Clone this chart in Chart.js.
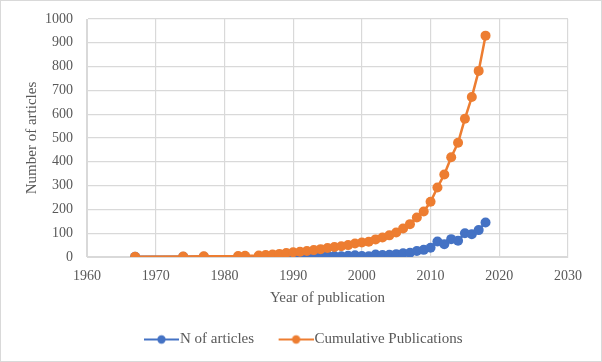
<!DOCTYPE html>
<html><head><meta charset="utf-8">
<script src="https://cdn.jsdelivr.net/npm/chart.js@4/dist/chart.umd.min.js"></script>
<style>
html,body{margin:0;padding:0;background:#fff;}
#wrap{position:absolute;left:0;top:0;width:600px;height:360px;border:1px solid #d9d9d9;}
canvas{display:block;}
</style></head>
<body><div id="wrap"><canvas id="c" width="600" height="360"></canvas></div>
<script>
const years = [1967,1974,1977,1982,1983,1985,1986,1987,1988,1989,1990,1991,1992,1993,1994,1995,1996,1997,1998,1999,2000,2001,2002,2003,2004,2005,2006,2007,2008,2009,2010,2011,2012,2013,2014,2015,2016,2017,2018];
const nArticles = [1,1,1,1,1,1,2,2,3,4,3,2,3,4,4,5,4,3,5,7,4,3,10,8,9,12,16,18,25,30,39,65,54,75,68,100,96,113,145];
const cumulative = [1,2,3,4,5,6,8,10,13,17,20,22,25,29,33,38,42,45,50,57,61,64,74,82,91,103,120,138,166,191,232,292,347,419,480,581,672,782,930];
const seriesNames = ['N of articles','Cumulative Publications'];
const colors = ['#4472C4','#ED7D31'];
const xTicks = [1960,1970,1980,1990,2000,2010,2020,2030];
const yTicks = [0,100,200,300,400,500,600,700,800,900,1000];

// legend icon: line with a dot, drawn at the right end of a wider transparent image
function legendIcon(color){
  const W=43, C=35;
  const cv=document.createElement('canvas'); cv.width=W; cv.height=12;
  const g=cv.getContext('2d');
  const x0=W-C;
  g.strokeStyle=color; g.lineWidth=2.2; g.beginPath(); g.moveTo(x0,6); g.lineTo(W,6); g.stroke();
  g.fillStyle=color; g.beginPath(); g.arc(x0+C/2,6,4.2,0,Math.PI*2); g.fill();
  return cv;
}
const icons = colors.map(legendIcon);
const fam = '"Liberation Serif", "Times New Roman", serif';
const tickFont = {family:fam, size:14};
const titleFont = {family:fam, size:15};

const legendShift = {id:'legendShift', afterLayout(chart){ const lg=chart.legend; if(lg){ lg.left+=7; lg.right+=7; } }};

new Chart(document.getElementById('c'), {
  type:'scatter',
  data:{datasets:[
    {label:seriesNames[0], data:years.map((y,i)=>({x:y,y:nArticles[i]})), borderColor:colors[0], backgroundColor:colors[0], showLine:true, borderWidth:2.5, pointRadius:5, pointBorderWidth:0, order:1},
    {label:seriesNames[1], data:years.map((y,i)=>({x:y,y:cumulative[i]})), borderColor:colors[1], backgroundColor:colors[1], showLine:true, borderWidth:2.5, pointRadius:5, pointBorderWidth:0, order:0}
  ]},
  plugins:[legendShift],
  options:{
    responsive:false, animation:false,
    layout:{padding:{left:22,right:33,top:18,bottom:4}},
    plugins:{
      tooltip:{enabled:false},
      legend:{position:'bottom', labels:{
        font:titleFont, color:'#595959', usePointStyle:true, pointStyleWidth:30, padding:23,
        generateLabels:(chart)=>seriesNames.map((n,i)=>({text:n, pointStyle:icons[i], fillStyle:colors[i], strokeStyle:colors[i], lineWidth:0, datasetIndex:i, hidden:false, fontColor:'#595959'}))
      }}
    },
    scales:{
      x:{type:'linear', min:1960, max:2030,
        afterBuildTicks:(s)=>{s.ticks=xTicks.map(v=>({value:v}));},
        afterFit:(s)=>{s.height=52;},
        ticks:{font:tickFont, color:'#595959', padding:11, maxRotation:0, callback:(v)=>String(v)},
        grid:{color:'#d9d9d9', lineWidth:1.2, drawTicks:false, tickLength:0},
        border:{color:'#d9d9d9'},
        title:{display:true, text:'Year of publication', font:titleFont, color:'#595959', padding:{top:4,bottom:2}}
      },
      y:{type:'linear', min:0, max:1000,
        afterBuildTicks:(s)=>{s.ticks=yTicks.map(v=>({value:v}));},
        afterFit:(s)=>{s.width=64; s.paddingTop=0; s.paddingBottom=0;},
        ticks:{font:tickFont, color:'#595959', padding:14, callback:(v)=>String(v)},
        grid:{color:'#d9d9d9', lineWidth:1.2, drawTicks:false, tickLength:0},
        border:{color:'#d9d9d9'},
        title:{display:true, text:'Number of articles', font:titleFont, color:'#595959', padding:{top:0,bottom:4}}
      }
    }
  }
});
</script></body></html>
